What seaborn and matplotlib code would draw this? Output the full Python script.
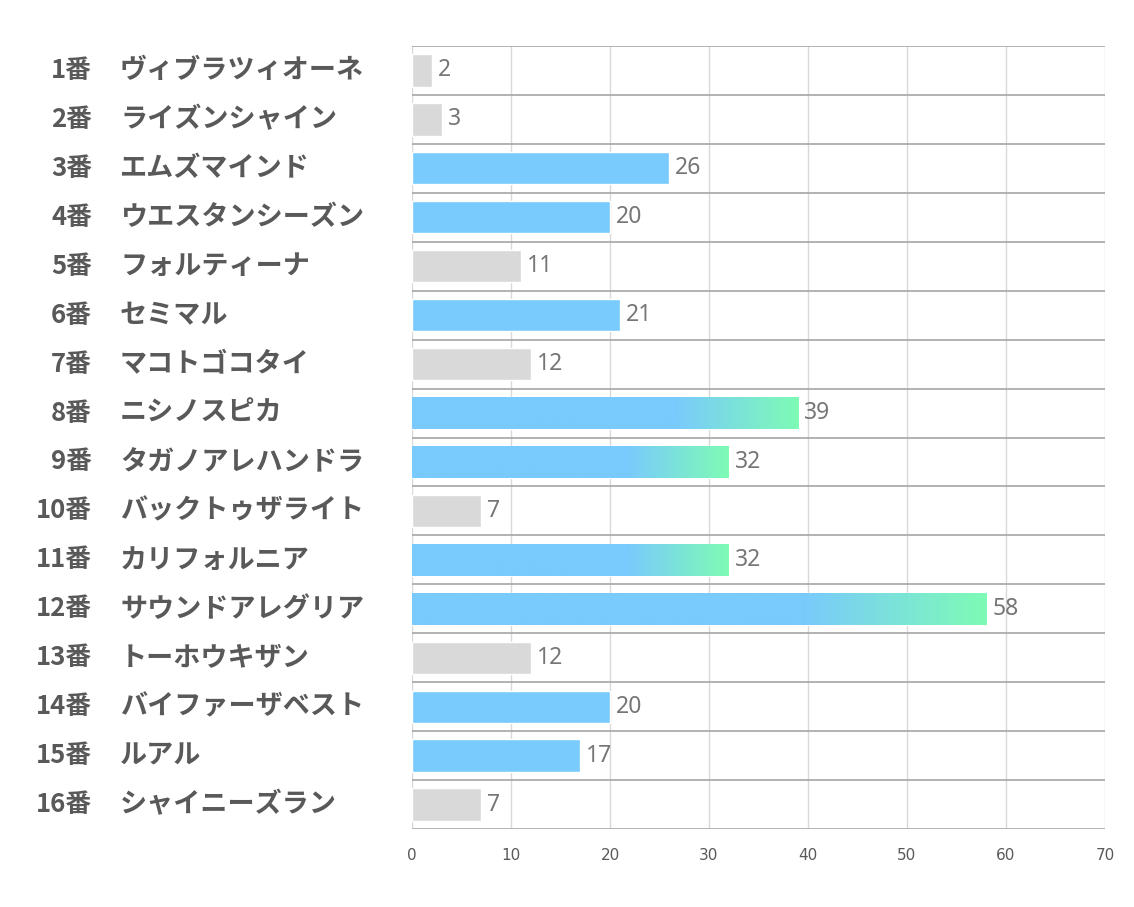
import matplotlib
matplotlib.use("Agg")
import matplotlib.pyplot as plt
import matplotlib.transforms as mtransforms
from matplotlib.colors import LinearSegmentedColormap
import numpy as np
import pandas as pd
import seaborn as sns

numbers = ["1番", "2番", "3番", "4番", "5番", "6番", "7番", "8番",
           "9番", "10番", "11番", "12番", "13番", "14番", "15番", "16番"]
names = ["ヴィブラツィオーネ", "ライズンシャイン", "エムズマインド", "ウエスタンシーズン",
         "フォルティーナ", "セミマル", "マコトゴコタイ", "ニシノスピカ",
         "タガノアレハンドラ", "バックトゥザライト", "カリフォルニア", "サウンドアレグリア",
         "トーホウキザン", "バイファーザベスト", "ルアル", "シャイニーズラン"]
values = [2, 3, 26, 20, 11, 21, 12, 39, 32, 7, 32, 58, 12, 20, 17, 7]
groups = ["gray", "gray", "blue", "blue", "gray", "blue", "gray", "grad",
          "grad", "gray", "grad", "grad", "gray", "blue", "blue", "gray"]
x_ticks = [0, 10, 20, 30, 40, 50, 60, 70]

GRAY = "#D9D9D9"
BLUE = "#79CAFD"
GREEN = "#7EFBB5"
color_map = {"gray": GRAY, "blue": BLUE, "grad": BLUE}

sns.set_theme(style="white")
plt.rcParams["font.family"] = ["Noto Sans CJK JP", "DejaVu Sans"]

df = pd.DataFrame({"key": numbers, "value": values, "group": groups})

fig = plt.figure(figsize=(11.34, 9.07), dpi=100)
ax = fig.add_axes([412 / 1134, 1 - 829 / 907, (1105 - 412) / 1134, (829 - 46) / 907])

sns.barplot(data=df, x="value", y="key", hue="key",
            palette=[color_map[g] for g in groups], legend=False,
            orient="h", width=0.66, ax=ax, saturation=1, zorder=3)

ax.set_xlim(0, 70)
ax.set_ylim(len(numbers) - 0.5, -0.5)

# gradient overlays
cmap = LinearSegmentedColormap.from_list(
    "bg", [(0.0, BLUE), (0.68, BLUE), (1.0, GREEN)])
grad = np.linspace(0, 1, 256).reshape(1, -1)
for patch, g in zip(ax.patches, groups):
    if g == "grad":
        x0, y0 = patch.get_x(), patch.get_y()
        w, h = patch.get_width(), patch.get_height()
        im = ax.imshow(grad, cmap=cmap, aspect="auto",
                       extent=[x0, x0 + w, y0 + h, y0], zorder=4,
                       interpolation="bilinear")
        im.set_clip_path(patch)
ax.set_xlim(0, 70)
ax.set_ylim(len(numbers) - 0.5, -0.5)

# grid lines
for b in np.arange(-0.5, len(numbers), 1.0):
    ax.axhline(b, color="#A6A6A6", lw=1.2, zorder=2)
for t in x_ticks:
    ax.axvline(t, color="#D9D9D9", lw=1.0, zorder=1)

for s in ax.spines.values():
    s.set_visible(False)

ax.set_xticks(x_ticks)
ax.set_xticklabels([str(t) for t in x_ticks], fontsize=11, color="#595959",
                   family=["DejaVu Sans"])
ax.tick_params(axis="x", length=0, pad=14)
ax.set_yticks([])
ax.set_xlabel("")
ax.set_ylabel("")

# value labels
for i, v in enumerate(values):
    ax.text(v + 0.6, i, str(v), va="center", ha="left", fontsize=16.5,
            color="#767676", zorder=5, family=["Noto Sans", "DejaVu Sans"])

# y labels
trans = mtransforms.blended_transform_factory(fig.transFigure, ax.transData)
for i, (n, nm) in enumerate(zip(numbers, names)):
    ax.text(92 / 1134, i, n, transform=trans, ha="right", va="center",
            fontsize=18.5, fontweight="bold", color="#595959")
    ax.text(120 / 1134, i, nm, transform=trans, ha="left", va="center",
            fontsize=19.5, fontweight="bold", color="#595959")

fig.savefig("out.png", dpi=100)
